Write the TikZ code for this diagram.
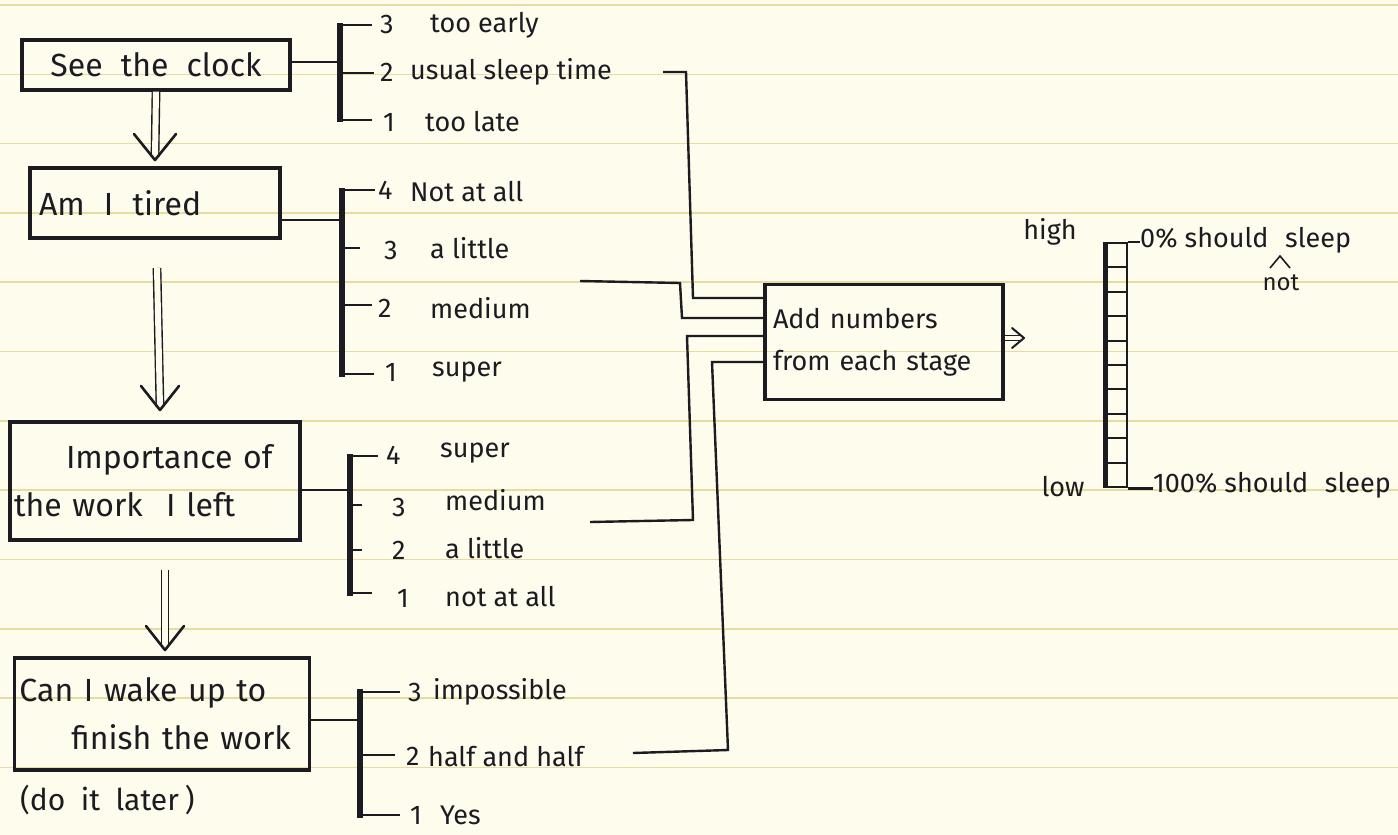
\documentclass[tikz,border=0pt]{standalone}
\usepackage{fontspec}
\setmainfont{Fira Sans}
\usetikzlibrary{arrows.meta,calc}
\definecolor{paper}{HTML}{FEFCEC}
\definecolor{rule}{HTML}{E6DCA2}
\definecolor{ink}{HTML}{1C1B22}
\begin{document}
\begin{tikzpicture}[x=1pt,y=-1pt,
  box/.style={draw=ink, line width=3.4pt, inner sep=0pt, text=ink, font=\fontsize{32}{48}\selectfont},
  lbl/.style={anchor=west, inner sep=0pt, text=ink, font=\fontsize{27}{30}\selectfont},
  brk/.style={draw=ink, line width=5.5pt},
  tick/.style={draw=ink, line width=2.8pt},
  wire/.style={draw=ink, line width=2.4pt},
  dshaft/.style={draw=ink, double=paper, double distance=6pt, line width=1.4pt},
  chev/.style={draw=ink, line width=2.6pt, line cap=round, line join=round}
]
\fill[paper] (0,0) rectangle (1398,835);
\useasboundingbox (0,0) rectangle (1398,835);
\foreach \k in {0,...,12} \draw[rule, line width=1.6pt] (0,{5+69.3*\k}) -- (1398,{5+69.3*\k});

% boxes
\node[box, minimum width=268pt, minimum height=50pt] (b1) at (156,65) {See\hspace{0.3em} the\hspace{0.3em} clock};
\node[box, minimum width=250pt, minimum height=70pt, text width=232pt, align=left] (b2) at (155,203) {Am\hspace{0.6em}I\hspace{0.6em}tired};
\node[box, minimum width=290pt, minimum height=118pt, text width=282pt, align=left] (b3) at (155,481) {\hspace*{52pt}Importance of\\the work\hspace{0.4em} I left};
\node[box, minimum width=295pt, minimum height=112pt, text width=285pt, align=left] (b4) at (162,714) {Can I wake up to\\\hspace*{52pt}finish the work};
\node[lbl, font=\fontsize{30}{32}\selectfont] (later) at (20,800) {(do\hspace{0.25em} it\hspace{0.25em} later\hspace{0.2em})};

% down arrows
\coordinate (a1e) at (155,160);
\coordinate (a2s) at (157,268);
\coordinate (a2e) at (160,410);
\coordinate (a3s) at (165,570);
\coordinate (a3e) at (165,650);
\draw[dshaft] (b1.south) -- ($(a1e)+(0,-3)$);
\draw[chev] ($(a1e)+(-21,-26)$) -- (a1e) -- ($(a1e)+(21,-26)$);
\draw[dshaft] (a2s) -- ($(a2e)+(0,-3)$);
\draw[chev] ($(a2e)+(-19,-24)$) -- (a2e) -- ($(a2e)+(19,-24)$);
\draw[dshaft] (a3s) -- ($(a3e)+(0,-3)$);
\draw[chev] ($(a3e)+(-19,-24)$) -- (a3e) -- ($(a3e)+(19,-24)$);

% bracket 1
\draw[tick] ([yshift=3pt]b1.east) -- (340,62);
\draw[brk] (340,23) -- (340,122);
\draw[tick] (340,25) -- (372,25);
\draw[tick] (340,73) -- (374,73);
\draw[tick] (340,120) -- (372,120);
\node[lbl] (n13) at (380,24) {3};
\node[lbl] (t13) at (430,25) {too early};
\node[lbl] (n12) at (380,72) {2};
\node[lbl] (t12) at (410,72) {usual sleep time};
\node[lbl] (n11) at (383,122) {1};
\node[lbl] (t11) at (425,122) {too late};

% bracket 2
\draw[tick] ([yshift=-17pt]b2.east) -- (342,220);
\draw[brk] (342,188) -- (342,377);
\draw[tick] (342,190) -- (375,190);
\draw[tick] (342,248) -- (360,248);
\draw[tick] (342,305) -- (372,305);
\draw[tick] (342,374) -- (374,374);
\node[lbl] (n24) at (378,190) {4};
\node[lbl] (t24) at (410,192) {Not at all};
\node[lbl] (n23) at (384,250) {3};
\node[lbl] (t23) at (430,248) {a little};
\node[lbl] (n22) at (378,308) {2};
\node[lbl] (t22) at (430,308) {medium};
\node[lbl] (n21) at (385,372) {1};
\node[lbl] (t21) at (432,372) {super};

% bracket 3
\draw[tick] ([yshift=-9pt]b3.east) -- (350,490);
\draw[brk] (350,454) -- (350,596);
\draw[tick] (350,456) -- (378,456);
\draw[tick] (350,505) -- (362,505);
\draw[tick] (350,550) -- (362,550);
\draw[tick] (350,593) -- (372,593);
\node[lbl] (n34) at (386,455) {4};
\node[lbl] (t34) at (440,453) {super};
\node[lbl] (n33) at (392,507) {3};
\node[lbl] (t33) at (445,500) {medium};
\node[lbl] (n32) at (392,550) {2};
\node[lbl] (t32) at (445,548) {a little};
\node[lbl] (n31) at (397,598) {1};
\node[lbl] (t31) at (445,597) {not at all};

% bracket 4
\draw[tick] ([yshift=-6pt]b4.east) -- (360,720);
\draw[brk] (360,689) -- (360,818);
\draw[tick] (360,692) -- (400,692);
\draw[tick] (360,755) -- (395,755);
\draw[tick] (360,815) -- (400,815);
\node[lbl] (n43) at (408,692) {3};
\node[lbl] (t43) at (433,692) {impossible};
\node[lbl] (n42) at (406,756) {2};
\node[lbl] (t42) at (428,757) {half and half};
\node[lbl] (n41) at (410,815) {1};
\node[lbl] (t41) at (440,815) {Yes};

% add box
\node[box, minimum width=238pt, minimum height=115pt, text width=222pt, align=left, font=\fontsize{27}{42}\selectfont] (add) at (884,342) {Add numbers\\from each stage};

% wires into add box
\coordinate (wa) at (663,72);
\coordinate (wb) at (580,281);
\coordinate (wc) at (590,522);
\coordinate (wd) at (633,753);
\draw[wire] (wa) -- (686,72) -- (693,298) -- ([yshift=44pt]add.west);
\draw[wire] (wb) -- (680,283) -- (682,318) -- ([yshift=24pt]add.west);
\draw[wire] (wc) -- (693,520) -- (687,336) -- ([yshift=6pt]add.west);
\draw[wire] (wd) -- (728,750) -- (712,362) -- ([yshift=-20pt]add.west);

% result arrow
\coordinate (re) at (1024,338);
\draw[draw=ink, double=paper, double distance=4pt, line width=1.2pt] ([yshift=4pt]add.east) -- ($(re)+(-2,0)$);
\draw[chev, line width=2pt] ($(re)+(-12,-10)$) -- (re) -- ($(re)+(-12,10)$);

% scale
\node[draw=ink, line width=2.2pt, minimum width=20pt, minimum height=244pt, inner sep=0pt] (lad) at (1117,365) {};
\draw[ink, line width=5pt] (lad.north west) -- (lad.south west);
\foreach \i in {1,...,9} \draw[ink, line width=2pt] (1107,{243+24.4*\i}) -- (1127,{243+24.4*\i});
\draw[tick] (lad.north east) -- ++(12,0);
\draw[tick] (lad.south east) -- ++(25,0);
\node[lbl] (top) at (1140,240) {0\% should\hspace{0.35em} sleep};
\node[lbl] (bot) at (1153,485) {100\% should\hspace{0.35em} sleep};
\node[lbl, anchor=center] (high) at (1050,232) {high};
\node[lbl, anchor=center] (low) at (1063,487) {low};
\draw[ink, line width=1.6pt] (1270,268) -- (1280,256) -- (1290,268);
\node[lbl, anchor=center, font=\fontsize{24}{26}\selectfont] (not) at (1281,283) {not};
\end{tikzpicture}
\end{document}
